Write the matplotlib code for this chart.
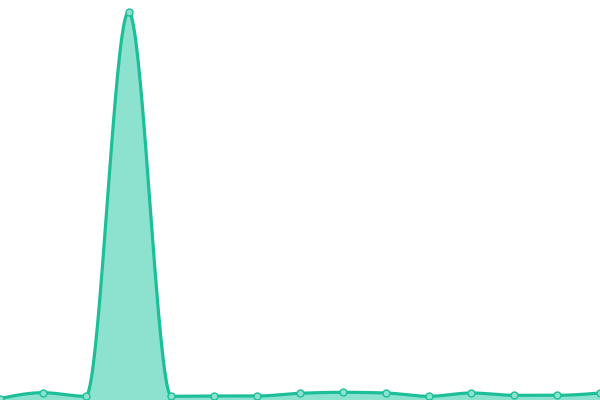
import numpy as np
import matplotlib
matplotlib.use("Agg")
import matplotlib.pyplot as plt

# values (arbitrary units, baseline = 0)
x_idx = list(range(15))
values = [1.5, 7.3, 3.7, 388, 3.7, 4, 4, 6.7, 7.7, 7, 3.7, 7, 4.7, 4.7, 7]

line_color = "#1dbf98"
fill_color = "#8de2cf"


def monotone_x(x, y, n=40):
    # monotone cubic smoothing, like d3.curveMonotoneX
    x = np.asarray(x, float)
    y = np.asarray(y, float)
    h = np.diff(x)
    s = np.diff(y) / h
    m = np.zeros_like(y)
    for i in range(1, len(y) - 1):
        if s[i - 1] * s[i] <= 0:
            m[i] = 0
        else:
            p = (s[i - 1] * h[i] + s[i] * h[i - 1]) / (h[i - 1] + h[i])
            m[i] = (np.sign(s[i - 1]) + np.sign(s[i])) * min(abs(s[i - 1]), abs(s[i]), 0.5 * abs(p))
    m[0] = (3 * s[0] - m[1]) / 2 if len(s) else 0
    m[-1] = (3 * s[-1] - m[-2]) / 2
    xs, ys = [], []
    for i in range(len(h)):
        t = np.linspace(0, 1, n, endpoint=False)
        h00 = 2 * t**3 - 3 * t**2 + 1
        h10 = t**3 - 2 * t**2 + t
        h01 = -2 * t**3 + 3 * t**2
        h11 = t**3 - t**2
        xs.append(x[i] + t * h[i])
        ys.append(h00 * y[i] + h10 * h[i] * m[i] + h01 * y[i + 1] + h11 * h[i] * m[i + 1])
    xs.append([x[-1]])
    ys.append([y[-1]])
    return np.concatenate(xs), np.concatenate(ys)


xs, ys = monotone_x(x_idx, values)

fig = plt.figure(figsize=(6, 4), dpi=100)
ax = fig.add_axes([0, 0, 1, 1])
ax.fill_between(xs, ys, 0, color=fill_color, lw=0)
ax.plot(xs, ys, color=line_color, lw=2.3, solid_capstyle="round")
ax.plot(x_idx, values, "o", ms=5, mfc=fill_color, mec=line_color, mew=1)
ax.set_xlim(0, 14)
ax.set_ylim(0, 400)
ax.axis("off")
fig.savefig("out.png", dpi=100)
